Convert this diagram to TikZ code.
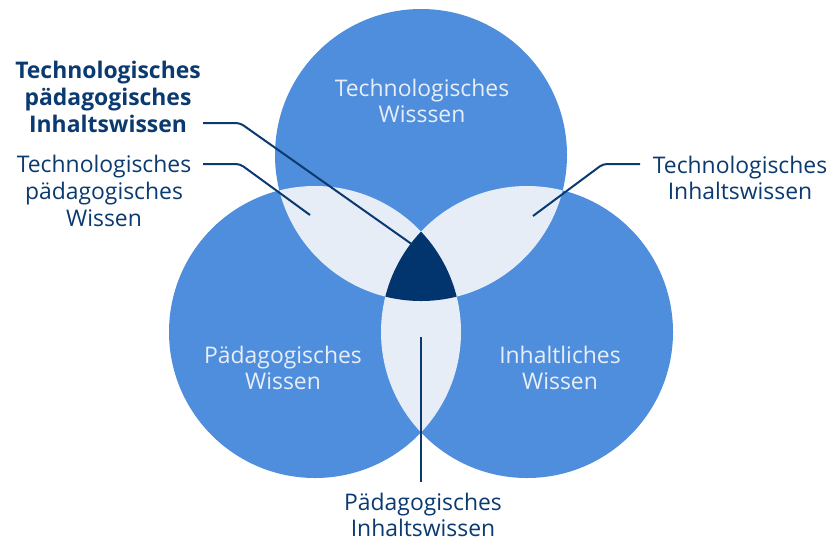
\documentclass[tikz,border=0pt]{standalone}
\usepackage{fontspec}
\setmainfont{Open Sans}
\definecolor{cblue}{HTML}{4F8EDC}
\definecolor{clight}{HTML}{E6EDF6}
\definecolor{cdark}{HTML}{02346E}
\definecolor{ctext}{HTML}{0B3A70}
\definecolor{cintext}{HTML}{E8EEF8}
\begin{document}
\begin{tikzpicture}[x=1pt,y=-1pt,
  intext/.style={align=center,inner sep=0pt,text=cintext,font=\fontsize{22.9}{26.6}\selectfont},
  lbl/.style={align=center,inner sep=0pt,text=ctext,font=\fontsize{22.9}{26.6}\selectfont},
  lblbold/.style={lbl,font=\fontsize{22.9}{26.6}\selectfont\bfseries},
  conn/.style={draw=ctext,line width=2pt,rounded corners=4pt}]
\useasboundingbox (0,0) rectangle (832,542);
\fill[white] (0,0) rectangle (832,542);
\coordinate (T) at (421,155);
\coordinate (L) at (315,332);
\coordinate (R) at (527,332);
\fill[cblue] (T) circle[radius=146pt];
\fill[cblue] (L) circle[radius=146pt];
\fill[cblue] (R) circle[radius=146pt];
\begin{scope}
  \clip (T) circle[radius=146pt];
  \fill[clight] (L) circle[radius=146pt];
  \fill[clight] (R) circle[radius=146pt];
\end{scope}
\begin{scope}
  \clip (L) circle[radius=146pt];
  \fill[clight] (R) circle[radius=146pt];
\end{scope}
\begin{scope}
  \clip (T) circle[radius=146pt];
  \clip (L) circle[radius=146pt];
  \fill[cdark] (R) circle[radius=146pt];
\end{scope}
% circle texts
\node[intext] (tw) at (422,101) {Technologisches\\Wisssen};
\node[intext] (pw) at (283,368) {Pädagogisches\\Wissen};
\node[intext] (iw) at (560,368) {Inhaltliches\\Wissen};
% outer labels
\node[lblbold] (tpiw) at (108,97) {Technologisches\\pädagogisches\\Inhaltswissen};
\node[lbl] (tpw) at (104,191) {Technologisches\\pädagogisches\\Wissen};
\node[lbl] (tiw) at (740,178) {Technologisches\\Inhaltswissen};
\node[lbl] (piw) at (423,515) {Pädagogisches\\Inhaltswissen};
% connector ends
\coordinate (s1) at (203,123);
\coordinate (e1) at (413,245);
\coordinate (s2) at (203,164);
\coordinate (e2) at (310,215);
\coordinate (s3) at (640,164);
\coordinate (e3) at (533,216);
\coordinate (s4) at (421,482);
\coordinate (e4) at (421,337);
\draw[conn] (s1) -- (240,123) -- (e1);
\draw[conn] (s2) -- (240,164) -- (e2);
\draw[conn] (s3) -- (603,164) -- (e3);
\draw[conn] (s4) -- (e4);
\end{tikzpicture}
\end{document}
